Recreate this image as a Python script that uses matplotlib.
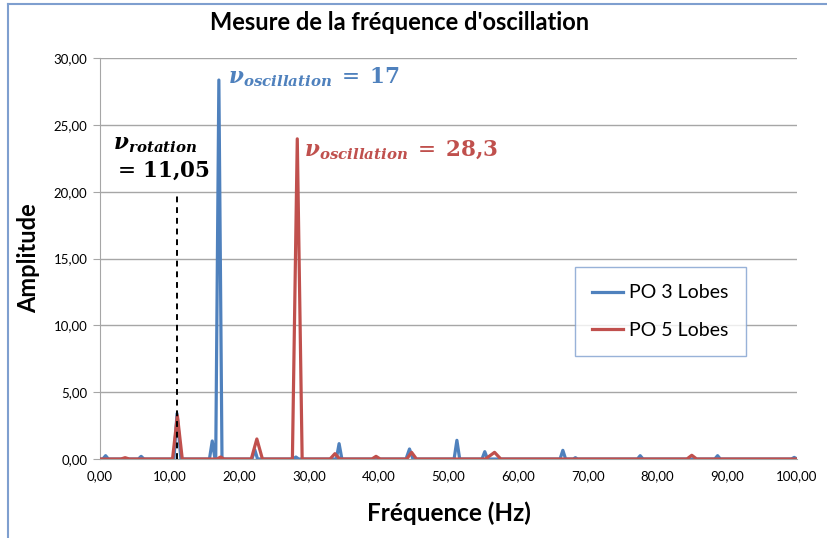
import numpy as np
import matplotlib.pyplot as plt
from matplotlib.ticker import FuncFormatter, MultipleLocator
from matplotlib.lines import Line2D

# PO 3 Lobes spectrum (Hz, amplitude)
blue_f = [0.0, 0.4, 0.8, 1.2, 5.5, 5.9, 6.3, 10.6, 11.05, 11.6, 15.7, 16.1, 16.5,
          16.6, 17.05, 17.5, 21.8, 22.2, 22.6, 27.7, 28.1, 28.5, 33.9, 34.3, 34.7,
          43.9, 44.4, 44.9, 50.8, 51.2, 51.6, 54.8, 55.2, 55.6, 66.0, 66.4, 66.8,
          67.9, 68.2, 68.5, 77.1, 77.5, 77.9, 88.2, 88.6, 89.0, 99.2, 99.6, 100.0]
blue_a = [0.0, 0.0, 0.25, 0.0, 0.0, 0.2, 0.0, 0.0, 3.4, 0.0, 0.0, 1.35, 0.0,
          0.0, 28.35, 0.0, 0.0, 0.7, 0.0, 0.0, 0.15, 0.0, 0.0, 1.15, 0.0,
          0.0, 0.75, 0.0, 0.0, 1.4, 0.0, 0.0, 0.55, 0.0, 0.0, 0.65, 0.0,
          0.0, 0.1, 0.0, 0.0, 0.25, 0.0, 0.0, 0.25, 0.0, 0.0, 0.12, 0.0]

# PO 5 Lobes spectrum (Hz, amplitude)
red_f = [0.0, 3.0, 3.6, 4.2, 10.4, 11.1, 11.8, 16.8, 17.3, 17.8, 21.7, 22.5, 23.3,
         27.6, 28.3, 29.0, 33.0, 33.7, 34.4, 39.0, 39.6, 40.2, 44.0, 44.7, 45.4,
         55.3, 56.6, 57.5, 84.2, 84.9, 85.6, 100.0]
red_a = [0.0, 0.0, 0.1, 0.0, 0.0, 3.25, 0.0, 0.0, 0.15, 0.0, 0.0, 1.5, 0.0,
         0.0, 23.95, 0.0, 0.0, 0.4, 0.0, 0.0, 0.2, 0.0, 0.0, 0.5, 0.0,
         0.0, 0.5, 0.0, 0.0, 0.28, 0.0, 0.0]

f_rotation = 11.05
rotation_top = 19.8

plt.rcParams['font.family'] = ['Lato', 'DejaVu Sans']
plt.rcParams['mathtext.fontset'] = 'dejavuserif'

fig = plt.figure(figsize=(8.28, 5.38), dpi=100)
ax = fig.add_axes([0.1208, 0.1468, 0.8418, 0.7454])

blue = '#4F81BD'
red = '#C0504D'

ax.plot(blue_f, blue_a, color=blue, lw=2.3, label='PO 3 Lobes', zorder=3,
        solid_joinstyle='round')
ax.plot(red_f, red_a, color=red, lw=2.3, label='PO 5 Lobes', zorder=4,
        solid_joinstyle='round')
ax.plot([f_rotation, f_rotation], [0, rotation_top], color='black', lw=1.4,
        ls=(0, (3, 2.5)), zorder=5)

ax.set_xlim(0, 100)
ax.set_ylim(0, 30)
ax.xaxis.set_major_locator(MultipleLocator(10))
ax.yaxis.set_major_locator(MultipleLocator(5))
fmt = FuncFormatter(lambda v, p: f'{v:.2f}'.replace('.', ','))
ax.xaxis.set_major_formatter(fmt)
ax.yaxis.set_major_formatter(fmt)
ax.grid(axis='y', color='#a6a6a6', lw=1.0)
ax.set_axisbelow(True)
for s in ['top', 'right']:
    ax.spines[s].set_visible(False)
for s in ['left', 'bottom']:
    ax.spines[s].set_color('#a6a6a6')
ax.tick_params(axis='y', length=5, color='#a6a6a6', labelsize=9.5, pad=4)
ax.tick_params(axis='x', length=0, labelsize=9.5, pad=8)

fig.text(400 / 828, 1 - 23 / 538, "Mesure de la fréquence d'oscillation",
         fontsize=17, fontweight='bold', ha='center', va='center')
ax.set_xlabel('Fréquence (Hz)', fontsize=17.5, fontweight='bold', labelpad=14)
ax.set_ylabel('Amplitude', fontsize=17, fontweight='bold', labelpad=10)

ax.text(18.3, 28.6, r'$\mathbfit{\nu}_{\mathbfit{oscillation}}\;=\;\mathbf{17}$',
        color=blue, fontsize=15.5, va='center', ha='left')
ax.text(29.3, 23.1, r'$\mathbfit{\nu}_{\mathbfit{oscillation}}\;=\;\mathbf{28{,}3}$',
        color=red, fontsize=15.5, va='center', ha='left')
ax.text(1.8, 23.5, r'$\mathbfit{\nu}_{\mathbfit{rotation}}$',
        color='black', fontsize=15.5, va='center', ha='left')
ax.text(1.8, 21.6, r'$=\,\mathbf{11{,}05}$',
        color='black', fontsize=15.5, va='center', ha='left')

leg = ax.legend(loc='upper left', bbox_to_anchor=(0.681, 0.479), fontsize=14,
                frameon=True, fancybox=False, handlelength=1.6,
                borderpad=0.9, labelspacing=1.05, handletextpad=0.3,
                borderaxespad=0)
leg.get_frame().set_edgecolor('#7f9fcf')
leg.get_frame().set_linewidth(1.0)

# chart area border (partly cropped)
fig.add_artist(Line2D([8 / 828, 8 / 828], [0, 1 - 4 / 538], color='#7f9fcf', lw=1.5))
fig.add_artist(Line2D([8 / 828, 826 / 828], [1 - 4 / 538, 1 - 4 / 538], color='#7f9fcf', lw=1.5))

fig.savefig('out.png', dpi=100)
